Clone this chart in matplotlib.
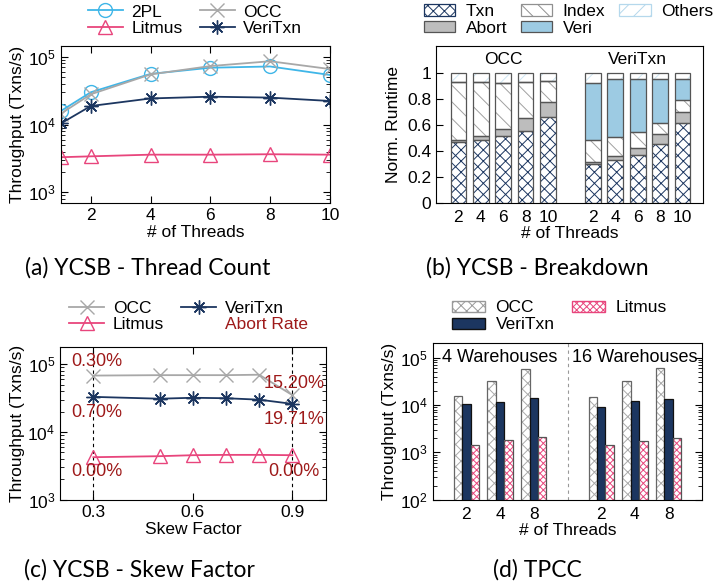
import matplotlib.pyplot as plt
from matplotlib.patches import Patch
from matplotlib.lines import Line2D
import numpy as np

plt.rcParams['font.family'] = ['Liberation Sans', 'DejaVu Sans']
plt.rcParams['font.size'] = 12.5
plt.rcParams['hatch.linewidth'] = 0.7

C_2PL = '#3fb6e8'
C_OCC = '#a8a8a8'
C_LIT = '#e8457c'
C_VERI = '#1c3660'
C_RED = '#9e1a1a'

# (a) YCSB - Thread Count
threads_a = [1, 2, 4, 6, 8, 10]
tp_2pl = [15900, 30000, 56000, 69000, 72000, 54000]
tp_occ = [14500, 28000, 55000, 73000, 86000, 66000]
tp_veri = [10400, 18800, 24300, 25800, 25000, 22300]
tp_litmus = [3300, 3400, 3600, 3600, 3650, 3600]

# (b) YCSB - Breakdown
threads_b = ['2', '4', '6', '8', '10']
occ_txn = [0.468, 0.48, 0.51, 0.55, 0.655]
occ_abort = [0.012, 0.03, 0.06, 0.10, 0.12]
occ_index = [0.45, 0.42, 0.35, 0.28, 0.16]
occ_veri = [0, 0, 0, 0, 0]
veri_txn = [0.30, 0.33, 0.37, 0.455, 0.61]
veri_abort = [0.01, 0.03, 0.05, 0.075, 0.09]
veri_index = [0.175, 0.145, 0.12, 0.085, 0.09]
veri_veri = [0.435, 0.445, 0.41, 0.335, 0.16]

# (c) YCSB - Skew Factor
skew = [0.3, 0.5, 0.6, 0.7, 0.8, 0.9]
sk_occ = [68000, 69000, 69000, 69000, 70000, 35000]
sk_veri = [33000, 31000, 32000, 31500, 30000, 26000]
sk_litmus = [4250, 4400, 4550, 4600, 4600, 4550]
abort_labels = [('0.30%', 0.31, 1.1e5), ('0.70%', 0.31, 1.95e4), ('0.00%', 0.31, 2.6e3),
                ('15.20%', 0.905, 5.2e4), ('19.71%', 0.905, 1.55e4), ('0.00%', 0.905, 2.6e3)]

# (d) TPCC
threads_d = ['2', '4', '8']
tpcc_occ_4 = [15300, 31600, 59000]
tpcc_veri_4 = [10300, 11500, 14000]
tpcc_lit_4 = [1400, 1800, 2100]
tpcc_occ_16 = [14500, 32500, 60000]
tpcc_veri_16 = [8900, 12000, 13600]
tpcc_lit_16 = [1400, 1700, 2050]

fig = plt.figure(figsize=(7.17, 5.88), dpi=100)
CAP_FONT = dict(family=['Lato', 'DejaVu Sans'], fontsize=16.5, ha='center', va='center')


def style_ticks(ax, right=True, top=True):
    ax.tick_params(which='both', direction='in', right=right, top=top)
    ax.tick_params(which='major', length=5)
    ax.tick_params(which='minor', length=3)


# ---- (a)
ax = fig.add_axes([0.085, 0.655, 0.375, 0.267])
ax.plot(threads_a, tp_2pl, color=C_2PL, marker='o', mfc='none', ms=10, lw=1.3, label='2PL')
ax.plot(threads_a, tp_occ, color=C_OCC, marker='x', ms=10, lw=1.3, label='OCC')
ax.plot(threads_a, tp_litmus, color=C_LIT, marker='^', mfc='none', ms=10, lw=1.3, label='Litmus')
ax.plot(threads_a, tp_veri, color=C_VERI, marker=(8, 2, 0), ms=10, lw=1.3, label='VeriTxn')
ax.set_yscale('log')
ax.set_ylim(700, 1.45e5)
ax.set_xlim(1, 10)
ax.set_xticks([2, 4, 6, 8, 10])
ax.set_xlabel('# of Threads', labelpad=2)
ax.set_ylabel('Throughput (Txns/s)', labelpad=2)
style_ticks(ax)
h, l = ax.get_legend_handles_labels()
order = [0, 2, 1, 3]
fig.legend([h[i] for i in order], [l[i] for i in order], loc='center',
           bbox_to_anchor=(0.272, 0.966), ncol=2, frameon=False, handlelength=2.0,
           columnspacing=1.0, labelspacing=0.05, handletextpad=0.5, borderpad=0)
fig.text(0.206, 0.544, '(a) YCSB - Thread Count', **CAP_FONT)

# ---- (b)
ax = fig.add_axes([0.608, 0.655, 0.372, 0.266])
xo = np.arange(5)
xv = np.arange(6, 11)
W = 0.7
EDGE = '#555555'


def stack(x, txn, abort, index, veri):
    txn = np.array(txn); abort = np.array(abort); index = np.array(index); veri = np.array(veri)
    b1 = txn
    b2 = b1 + abort
    b3 = b2 + index
    b4 = b3 + veri
    ax.bar(x, txn, W, color='white', edgecolor=C_VERI, hatch='xxx', lw=0)
    ax.bar(x, abort, W, bottom=b1, color='#bdbdbd', lw=0)
    ax.bar(x, index, W, bottom=b2, color='white', edgecolor='#a0a0a0', hatch='\\\\', lw=0)
    ax.bar(x, veri, W, bottom=b3, color='#9dcbe3', lw=0)
    ax.bar(x, 1 - b4, W, bottom=b4, color='white', edgecolor='#cfe6f3', hatch='//', lw=0)
    for bot, hgt in [(0, txn), (b1, abort), (b2, index), (b3, veri), (b4, 1 - b4)]:
        ax.bar(x, hgt, W, bottom=bot, fill=False, edgecolor=EDGE, lw=0.9)


stack(xo, occ_txn, occ_abort, occ_index, occ_veri)
stack(xv, veri_txn, veri_abort, veri_index, veri_veri)
ax.set_xlim(-1, 10.9)
ax.set_ylim(0, 1.2)
ax.set_yticks([0, 0.2, 0.4, 0.6, 0.8, 1])
ax.set_yticklabels(['0', '0.2', '0.4', '0.6', '0.8', '1'])
ax.set_xticks(list(xo) + list(xv))
ax.set_xticklabels(threads_b + threads_b)
ax.tick_params(axis='y', direction='in', length=5)
ax.tick_params(axis='x', length=0, pad=5)
ax.set_xlabel('# of Threads', labelpad=1)
ax.set_ylabel('Norm. Runtime', labelpad=4)
ax.text(2, 1.1, 'OCC', ha='center', va='center')
ax.text(8, 1.1, 'VeriTxn', ha='center', va='center')
leg_b = [Patch(facecolor='white', edgecolor=C_VERI, hatch='xxx', lw=0.9, label='Txn'),
         Patch(facecolor='#bdbdbd', edgecolor=EDGE, lw=0.9, label='Abort'),
         Patch(facecolor='white', edgecolor='#909090', hatch='\\\\', lw=0.9, label='Index'),
         Patch(facecolor='#9dcbe3', edgecolor=EDGE, lw=0.9, label='Veri'),
         Patch(facecolor='white', edgecolor='#b5d8ec', hatch='//', lw=0.9, label='Others')]
fig.legend(handles=leg_b, loc='center', bbox_to_anchor=(0.793, 0.966), ncol=3, frameon=False,
           handlelength=1.8, handleheight=0.6, columnspacing=0.8, labelspacing=0.1,
           handletextpad=0.6, borderpad=0)
fig.text(0.75, 0.544, '(b) YCSB - Breakdown', **CAP_FONT)

# ---- (c)
ax = fig.add_axes([0.084, 0.150, 0.370, 0.260])
ax.axvline(0.3, color='black', ls=(0, (3, 3)), lw=0.8)
ax.axvline(0.9, color='black', ls=(0, (3, 3)), lw=0.8)
l_occ, = ax.plot(skew, sk_occ, color=C_OCC, marker='x', ms=10, lw=1.3, label='OCC')
l_lit, = ax.plot(skew, sk_litmus, color=C_LIT, marker='^', mfc='none', ms=10, lw=1.3, label='Litmus')
l_veri, = ax.plot(skew, sk_veri, color=C_VERI, marker=(8, 2, 0), ms=10, lw=1.3, label='VeriTxn')
for txt, xx, yy in abort_labels:
    ax.text(xx, yy, txt, color=C_RED, ha='center', va='center', fontsize=13)
ax.set_yscale('log')
ax.set_ylim(1e3, 1.8e5)
ax.set_xlim(0.2, 1.0)
ax.set_xticks([0.3, 0.6, 0.9])
ax.set_xlabel('Skew Factor', labelpad=2)
ax.set_ylabel('Throughput (Txns/s)', labelpad=2)
style_ticks(ax)
blank = Line2D([], [], color='none')
lg = fig.legend([l_occ, l_lit, l_veri, blank], ['OCC', 'Litmus', 'VeriTxn', 'Abort Rate'],
                loc='center', bbox_to_anchor=(0.263, 0.462), ncol=2, frameon=False,
                handlelength=2.0, columnspacing=1.0, labelspacing=0.05, handletextpad=0.5,
                borderpad=0)
lg.get_texts()[3].set_color(C_RED)
fig.text(0.195, 0.031, '(c) YCSB - Skew Factor', **CAP_FONT)

# ---- (d)
ax = fig.add_axes([0.6035, 0.150, 0.376, 0.266])
g1 = np.arange(3)
g2 = np.arange(4, 7)
BW = 0.25
for g, o, v, lt in [(g1, tpcc_occ_4, tpcc_veri_4, tpcc_lit_4), (g2, tpcc_occ_16, tpcc_veri_16, tpcc_lit_16)]:
    ax.bar(g - BW, o, BW, color='white', edgecolor='#aaaaaa', hatch='xxx', lw=0)
    ax.bar(g - BW, o, BW, fill=False, edgecolor='#666666', lw=0.9)
    ax.bar(g, v, BW, color=C_VERI, edgecolor='#111111', lw=0.9)
    ax.bar(g + BW, lt, BW, color='white', edgecolor=C_LIT, hatch='xxxxx', lw=0)
    ax.bar(g + BW, lt, BW, fill=False, edgecolor='#555555', lw=0.9)
ax.axvline(3, color='#999999', ls=(0, (3, 3)), lw=0.8)
ax.set_yscale('log')
ax.set_ylim(100, 2e5)
ax.set_xlim(-1, 7)
ax.set_xticks(list(g1) + list(g2))
ax.set_xticklabels(threads_d + threads_d)
ax.tick_params(axis='y', which='both', direction='in', right=True)
ax.tick_params(axis='y', which='major', length=5)
ax.tick_params(axis='y', which='minor', length=3)
ax.tick_params(axis='x', length=0, pad=5)
ax.set_xlabel('# of Threads', labelpad=1)
ax.set_ylabel('Throughput (Txns/s)', labelpad=2)
ax.text(1, 1.0e5, '4 Warehouses', ha='center', va='center', fontsize=13)
ax.text(5, 1.0e5, '16 Warehouses', ha='center', va='center', fontsize=13)
leg_d = [Patch(facecolor='white', edgecolor='#999999', hatch='xxx', label='OCC'),
         Patch(facecolor=C_VERI, edgecolor='#111111', label='VeriTxn'),
         Patch(facecolor='white', edgecolor=C_LIT, hatch='xxxxx', label='Litmus')]
fig.legend(handles=leg_d, loc='center', bbox_to_anchor=(0.78, 0.462), ncol=2, frameon=False,
           handlelength=1.9, handleheight=0.6, columnspacing=1.0, labelspacing=0.1,
           handletextpad=0.6, borderpad=0)
fig.text(0.749, 0.031, '(d) TPCC', **CAP_FONT)

fig.savefig('out.png', dpi=100)
